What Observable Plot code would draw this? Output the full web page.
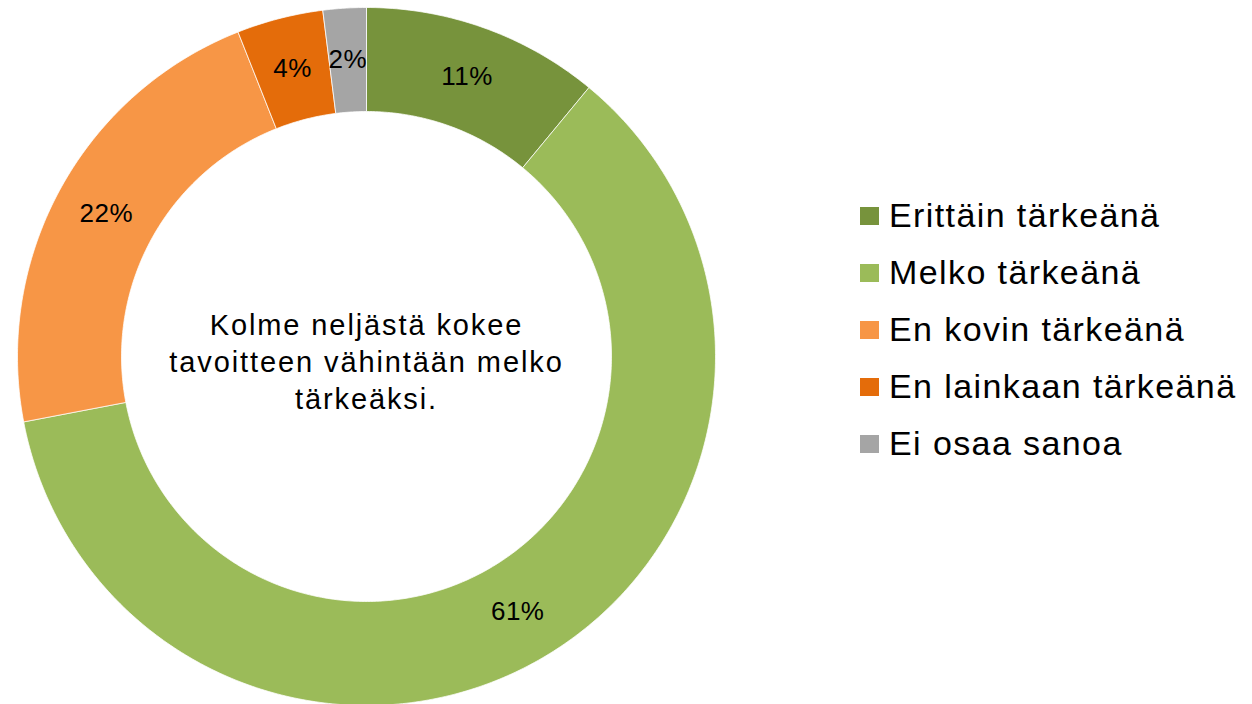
<!DOCTYPE html>
<html>
<head>
<meta charset="utf-8">
<script src="https://cdn.jsdelivr.net/npm/d3@7"></script>
<script src="https://cdn.jsdelivr.net/npm/@observablehq/plot@0.6"></script>
<style>
  html, body { margin: 0; padding: 0; background: #fff; }
  body { font-family: Arial, "Liberation Sans", sans-serif; }
  #wrap { position: relative; width: 1252px; height: 704px; overflow: hidden; }
  #legend { position: absolute; left: 860px; top: 187px; }
  .item { display: flex; align-items: center; height: 57px; font-size: 34px; letter-spacing: 1.4px; color: #000; white-space: nowrap; }
  .sw { width: 19px; height: 18px; margin-right: 10px; flex: none; }
</style>
</head>
<body>
<div id="wrap"></div>
<script>
const categories = ["Erittäin tärkeänä", "Melko tärkeänä", "En kovin tärkeänä", "En lainkaan tärkeänä", "Ei osaa sanoa"];
const values = [11, 61, 22, 4, 2];
const colors = ["#77933C", "#9BBB59", "#F79646", "#E46C0A", "#A5A5A5"];
const labels = ["11%", "61%", "22%", "4%", "2%"];
const centerText = "Kolme neljästä kokee\ntavoitteen vähintään melko\ntärkeäksi.";

const W = 1252, H = 704;
const cx = 366, cy = 356, R = 349;
const inner = 0.702;

const arcs = d3.pie().sort(null).value(d => d)(values);
const polys = [];
arcs.forEach((a, i) => {
  const n = Math.max(8, Math.ceil((a.endAngle - a.startAngle) * 80));
  const cat = categories[i];
  for (let k = 0; k <= n; k++) {
    const t = a.startAngle + (a.endAngle - a.startAngle) * k / n;
    polys.push({cat, x: Math.sin(t), y: Math.cos(t)});
  }
  for (let k = n; k >= 0; k--) {
    const t = a.startAngle + (a.endAngle - a.startAngle) * k / n;
    polys.push({cat, x: inner * Math.sin(t), y: inner * Math.cos(t)});
  }
  polys.push({cat, x: Math.sin(a.startAngle), y: Math.cos(a.startAngle)});
});
const mid = (1 + inner) / 2;
const labelData = arcs.map((a, i) => {
  const t = (a.startAngle + a.endAngle) / 2;
  return {label: labels[i], x: mid * Math.sin(t), y: mid * Math.cos(t)};
});

const chart = Plot.plot({
  width: W, height: H,
  marginTop: 0, marginRight: 0, marginBottom: 0, marginLeft: 0,
  style: {fontFamily: "Arial, 'Liberation Sans', sans-serif", background: "transparent"},
  x: {domain: [-cx / R, (W - cx) / R], range: [0, W], axis: null},
  y: {domain: [(cy - H) / R, cy / R], range: [H, 0], axis: null},
  color: {domain: categories, range: colors},
  marks: [
    Plot.line(polys, {x: "x", y: "y", z: "cat", fill: "cat", stroke: "white", strokeWidth: 0.75, curve: "linear"}),
    Plot.text(labelData, {x: "x", y: "y", text: "label", fontSize: 26, fill: "#000"}),
    Plot.text([centerText], {x: () => 0, y: () => 0, text: d => d, fontSize: 29, lineHeight: 1.276, dy: 4, fill: "#000"})
  ]
});
const gs = chart.querySelectorAll("g[aria-label='text']");
if (gs.length > 0) gs[0].style.letterSpacing = "0.5px";
if (gs.length > 1) gs[gs.length - 1].style.letterSpacing = "1.9px";
document.getElementById("wrap").appendChild(chart);

const legend = document.createElement("div");
legend.id = "legend";
categories.forEach((c, i) => {
  const it = document.createElement("div");
  it.className = "item";
  const sw = document.createElement("div");
  sw.className = "sw";
  sw.style.background = colors[i];
  const tx = document.createElement("span");
  tx.textContent = c;
  it.appendChild(sw);
  it.appendChild(tx);
  legend.appendChild(it);
});
document.getElementById("wrap").appendChild(legend);
</script>
</body>
</html>
